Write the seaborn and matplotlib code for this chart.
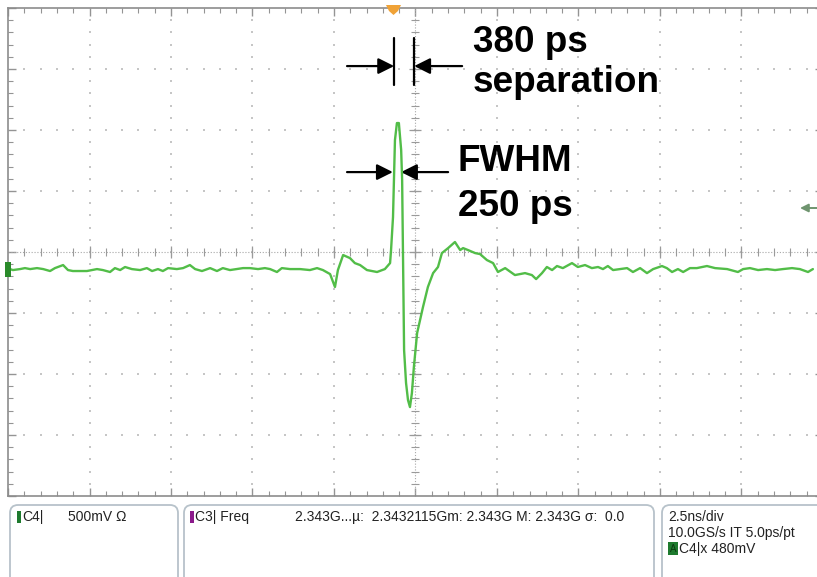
import numpy as np
import pandas as pd
import matplotlib
matplotlib.use("Agg")
import matplotlib.pyplot as plt
from matplotlib.ticker import FixedLocator
from matplotlib.patches import FancyBboxPatch, Rectangle, Polygon
import seaborn as sns

# Captured waveform, channel C4 (time in ns, amplitude in mV)
time_ns = [
    -12.44, -12.35, -12.13, -11.98, -11.82, -11.61, -11.42, -11.21, -11.06, -10.81,
    -10.66, -10.51, -10.08, -9.77, -9.59, -9.37, -9.22, -9.06, -8.91, -8.70,
    -8.45, -8.24, -8.08, -7.90, -7.75, -7.59, -7.32, -7.13, -6.92, -6.76,
    -6.55, -6.30, -6.09, -5.91, -5.69, -5.48, -5.29, -5.08, -4.83, -4.62,
    -4.46, -4.25, -4.10, -3.85, -3.54, -3.24, -3.02, -2.84, -2.62, -2.53,
    -2.47, -2.38, -2.22, -2.01, -1.86, -1.70, -1.49, -1.18, -0.94, -0.78,
    -0.75, -0.69, -0.63, -0.57, -0.51, -0.44, -0.41, -0.38, -0.35, -0.29,
    -0.23, -0.17, -0.11, -0.05, 0.05, 0.14, 0.23, 0.38, 0.54, 0.69,
    0.81, 1.00, 1.21, 1.37, 1.46, 1.61, 1.83, 1.98, 2.19, 2.38,
    2.53, 2.75, 3.05, 3.36, 3.57, 3.70, 3.88, 4.03, 4.19, 4.34,
    4.52, 4.80, 4.98, 5.20, 5.41, 5.60, 5.75, 5.90, 6.06, 6.27,
    6.49, 6.67, 6.89, 7.10, 7.29, 7.56, 7.71, 7.87, 8.05, 8.21,
    8.42, 8.63, 8.94, 9.19, 9.56, 9.89, 10.05, 10.26, 10.51, 10.78,
    11.03, 11.27, 11.55, 11.79, 12.04, 12.19,
]
volt_mv = [
    8, 0, 8, 16, 8, 16, 8, -8, 16, 41,
    0, -8, -8, 8, 0, -16, 16, 0, 25, 8,
    0, 16, -8, 8, -8, 16, 8, 16, 41, 8,
    -8, 16, -8, 16, 0, 8, 16, 16, 8, 16,
    8, -16, 16, 8, 8, 0, 16, 0, -33, -98,
    -139, 0, 123, 98, 57, 41, 0, -16, 8, 57,
    164, 434, 1066, 1205, 1205, 984, 738, 25, -656, -926,
    -1066, -1123, -1008, -795, -516, -410, -303, -139, -25, 25,
    139, 180, 230, 164, 180, 164, 139, 131, 82, 57,
    -16, 16, -41, -25, -41, -74, -25, 25, 0, 33,
    16, 57, 25, 41, 16, 25, 8, 33, 0, 8,
    16, -16, 16, -25, 8, 33, 16, -16, 8, -16,
    16, 16, 33, 16, 8, -16, 8, 16, 0, 8,
    0, 8, 16, 8, -16, 8,
]

# Scope settings
TIME_PER_DIV_NS = 2.5
VOLT_PER_DIV_MV = 500
H_DIVS = 10
V_DIVS = 8
CENTER_MV = 148          # screen centre relative to channel ground
FWHM_NS = 0.25

sns.set_style("white")
plt.rcParams["font.family"] = ["Liberation Sans", "DejaVu Sans"]

W, H = 817, 577
fig = plt.figure(figsize=(W / 100, H / 100), dpi=100)
fig.patch.set_facecolor("white")

# Graticule area
ax = fig.add_axes([8 / W, 1 - 496 / H, 815 / W, 488 / H])
df = pd.DataFrame({"t": time_ns, "v": volt_mv})
sns.lineplot(data=df, x="t", y="v", ax=ax, color="#52bd48", linewidth=1.7,
             zorder=5, estimator=None)

half_t = H_DIVS / 2 * TIME_PER_DIV_NS
half_v = V_DIVS / 2 * VOLT_PER_DIV_MV
ax.set_xlim(-half_t, half_t)
ax.set_ylim(CENTER_MV - half_v, CENTER_MV + half_v)
ax.set_xlabel("")
ax.set_ylabel("")

maj_x = np.arange(-H_DIVS // 2, H_DIVS // 2 + 1) * TIME_PER_DIV_NS
min_x = np.arange(-H_DIVS * 5 // 2, H_DIVS * 5 // 2 + 1) * TIME_PER_DIV_NS / 5
maj_y = CENTER_MV + np.arange(-V_DIVS // 2, V_DIVS // 2 + 1) * VOLT_PER_DIV_MV
min_y = CENTER_MV + np.arange(-V_DIVS * 5 // 2, V_DIVS * 5 // 2 + 1) * VOLT_PER_DIV_MV / 5

ax.xaxis.set_major_locator(FixedLocator(maj_x))
ax.xaxis.set_minor_locator(FixedLocator(min_x))
ax.yaxis.set_major_locator(FixedLocator(maj_y))
ax.yaxis.set_minor_locator(FixedLocator(min_y))
ax.tick_params(which="both", direction="in", top=True, bottom=True, left=True,
               right=True, labelbottom=False, labelleft=False, color="#949494")
ax.tick_params(which="major", length=6, width=1.0)
ax.tick_params(which="minor", length=3.5, width=0.8)
for s in ax.spines.values():
    s.set_color("#8c8c8c")
    s.set_linewidth(1.2)

# dotted graticule lines
inner_x = maj_x[1:-1]
inner_y = maj_y[1:-1]
gx, gy = np.meshgrid(inner_x[inner_x != 0], min_y[1:-1])
ax.scatter(gx.ravel(), gy.ravel(), marker="s", s=1.6, color="#c6c6c6",
           linewidths=0, zorder=1)
gx, gy = np.meshgrid(min_x[1:-1], inner_y[inner_y != CENTER_MV])
ax.scatter(gx.ravel(), gy.ravel(), marker="s", s=1.6, color="#c6c6c6",
           linewidths=0, zorder=1)

# centre cross with its scale marks
ax.axhline(CENTER_MV, color="#a8a8a8", lw=0.8, ls=(0, (1, 1.6)), zorder=2)
ax.axvline(0, color="#a8a8a8", lw=0.8, ls=(0, (1, 1.6)), zorder=2)
ax.scatter(min_x[1:-1], np.full(len(min_x) - 2, CENTER_MV), marker="|", s=28,
           color="#9a9a9a", linewidths=0.8, zorder=2)
ax.scatter(inner_x, np.full(len(inner_x), CENTER_MV), marker="|", s=70,
           color="#9a9a9a", linewidths=0.9, zorder=2)
ax.scatter(np.zeros(len(min_y) - 2), min_y[1:-1], marker="_", s=28,
           color="#9a9a9a", linewidths=0.8, zorder=2)
ax.scatter(np.zeros(len(inner_y)), inner_y, marker="_", s=70,
           color="#9a9a9a", linewidths=0.9, zorder=2)

# measurement markers
peak_t = time_ns[int(np.argmax(volt_mv))]
arrow_kw = dict(arrowstyle="-|>", color="black", lw=1.6, mutation_scale=24,
                shrinkA=0, shrinkB=0)
sep_left, sep_right = -0.655, -0.04
ax.plot([sep_left, sep_left], [1516, 1902], color="black", lw=1.6, zorder=6)
ax.plot([sep_right, sep_right], [1516, 1902], color="black", lw=1.6, zorder=6)
ax.annotate("", xy=(sep_left, 1672), xytext=(-2.10, 1672), arrowprops=arrow_kw)
ax.annotate("", xy=(sep_right, 1672), xytext=(1.43, 1672), arrowprops=arrow_kw)
ax.annotate("", xy=(peak_t - FWHM_NS / 2, 803), xytext=(-2.10, 803),
            arrowprops=arrow_kw)
ax.annotate("", xy=(peak_t + FWHM_NS / 2, 803), xytext=(1.00, 803),
            arrowprops=arrow_kw)

# overlay in pixel units for screen furniture and text
ov = fig.add_axes([0, 0, 1, 1], zorder=10)
ov.set_xlim(0, W)
ov.set_ylim(H, 0)
ov.axis("off")
ov.patch.set_alpha(0)

big = dict(fontsize=26.6, fontweight="bold", color="black", va="baseline", ha="left")
ov.text(473, 52, "380 ps", **big)
ov.text(473, 92, "separation", **big)
ov.text(458, 171, "FWHM", **big)
ov.text(458, 216, "250 ps", **big)

# trigger position, trigger level and ground markers
ov.add_patch(Polygon([(386, 5), (401, 5), (398, 11), (393.5, 15), (389, 11)],
                     closed=True, fc="#f0a236", ec="none"))
ov.annotate("", xy=(800, 208), xytext=(818, 208),
            arrowprops=dict(arrowstyle="-|>", color="#6f946f", lw=1.4,
                            mutation_scale=12, shrinkA=0, shrinkB=0))
ov.add_patch(Rectangle((5, 262), 6, 15, fc="#2a8a2a", ec="none"))

# info panel
box_kw = dict(boxstyle="round,pad=0,rounding_size=8", ec="#b7c2ca", fc="white", lw=1.3)
ov.add_patch(FancyBboxPatch((10, 505), 168, 90, **box_kw))
ov.add_patch(FancyBboxPatch((184, 505), 470, 90, **box_kw))
ov.add_patch(FancyBboxPatch((662, 505), 170, 90, **box_kw))

small = dict(fontsize=10, color="#222222", va="center", ha="left")
ov.add_patch(Rectangle((17, 511), 4, 12, fc="#1e7a2e", ec="none"))
ov.text(22, 517, "C4|", **small)
ov.text(68, 517, "500mV \u03a9", **small)
ov.add_patch(Rectangle((190, 511), 4, 12, fc="#8b1a8b", ec="none"))
ov.text(195, 517, "C3| Freq", **small)
ov.text(295, 517, "2.343G...\u00b5:  2.3432115Gm: 2.343G M: 2.343G \u03c3:  0.0", **small)
ov.text(668, 517, "2.5ns/div", **small)
ov.text(668, 533, "10.0GS/s IT 5.0ps/pt", **small)
ov.add_patch(Rectangle((668, 542), 10, 13, fc="#1e7a2e", ec="none"))
ov.text(673, 549, "A", fontsize=7, color="#0a3a10", ha="center", va="center")
ov.text(679, 549, "C4|x 480mV", **small)

fig.savefig("out.png", dpi=100, facecolor="white")
